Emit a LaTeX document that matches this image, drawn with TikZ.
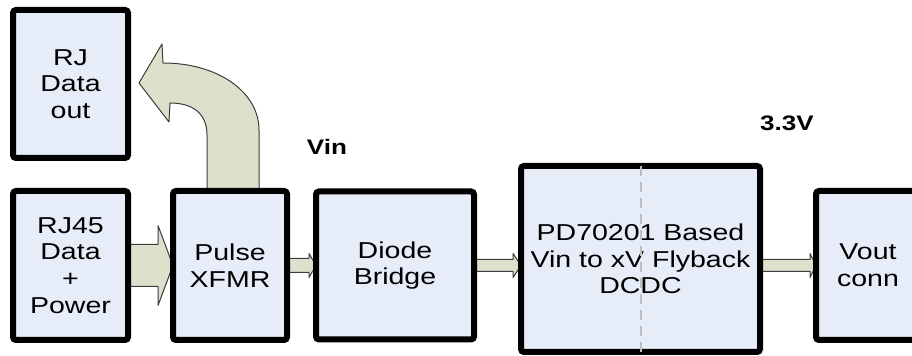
\documentclass[tikz,border=0pt]{standalone}
\usepackage{fontspec}
\setmainfont{Liberation Sans}[FakeStretch=1.24]
\usetikzlibrary{positioning,calc,backgrounds}
\definecolor{boxfill}{RGB}{230,236,248}
\definecolor{flow}{RGB}{221,224,203}
\definecolor{rim}{RGB}{60,60,60}
\definecolor{split}{RGB}{190,190,190}
% block arrow: from, to, shaft half, head half, head length
\newcommand{\fatarrow}[5]{%
  \draw[fat] let \p1=(#1), \p2=(#2) in
    (\x1,\y1+#3) -- (\x2-#5,\y1+#3) -- (\x2-#5,\y1+#4) -- (\x2,\y1)
    -- (\x2-#5,\y1-#4) -- (\x2-#5,\y1-#3) -- (\x1,\y1-#3) -- cycle;}

\begin{document}
\begin{tikzpicture}[x=0.5pt,y=-0.5pt,
  blk/.style={draw=black,fill=boxfill,line width=3pt,rounded corners=1.5pt,outer sep=0pt,
              inner sep=0pt,align=center,font=\fontsize{11.5}{13.3}\selectfont,
              minimum height=74.5pt,minimum width=57.5pt},
  lbl/.style={font=\fontsize{10.5}{12}\selectfont\bfseries},
  fat/.style={draw=rim,fill=flow,line width=0.5pt,line join=round}]
 \useasboundingbox (0,0) rectangle (912,356);
 \clip (0,0) rectangle (912,356);
 \node[blk] (rj45) at (70.5,265.5) {RJ45\\ Data\\ +\\ Power};
 \node[blk,above=16.5pt of rj45,minimum height=74pt] (out) {RJ\\ Data\\ out};
 \node[blk,right=22.5pt of rj45,minimum width=57pt] (pulse) {Pulse\\ XFMR};
 \node[blk,right=14.5pt of pulse,minimum width=79pt,minimum height=74pt] (diode) {Diode\\ Bridge};
 \node[blk,right=23.5pt of diode,minimum width=119.5pt,minimum height=93pt,yshift=3.25pt] (pd)
   {PD70201 Based\\ Vin to xV Flyback\\ DCDC};
 \node[blk,right=28pt of pd,minimum width=52pt,yshift=-3.25pt] (vout) {Vout\\ conn};
 \draw[split,line width=1pt,dash pattern=on 5pt off 3pt] (pd.north) -- (pd.south);
 \node[lbl] (vin) at (327,147) {Vin};
 \node[lbl] (v33) at (787,123) {3.3V};
 \coordinate (pdout) at (vout.west -| pd.east);
 \begin{scope}[on background layer]
  \fatarrow{rj45.east}{pulse.west}{10.5pt}{20pt}{7.5pt}
  \fatarrow{pulse.east}{diode.west}{3.5pt}{6pt}{3.5pt}
  \fatarrow{diode.east}{pd.west}{3pt}{6pt}{4pt}
  \fatarrow{pdout}{vout.west}{3pt}{6pt}{3pt}
  \begin{scope}[shift={(pulse.north)}]
   \draw[fat] (-23,1) -- (-23,-56) .. controls (-23,-78) and (-38,-88) .. (-60,-88)
     -- (-61,-69) -- (-91,-108) -- (-68,-147) -- (-67,-128)
     .. controls (-12,-128) and (29,-99) .. (29,-61) -- (29,1) -- cycle;
  \end{scope}
 \end{scope}
\end{tikzpicture}
\end{document}
